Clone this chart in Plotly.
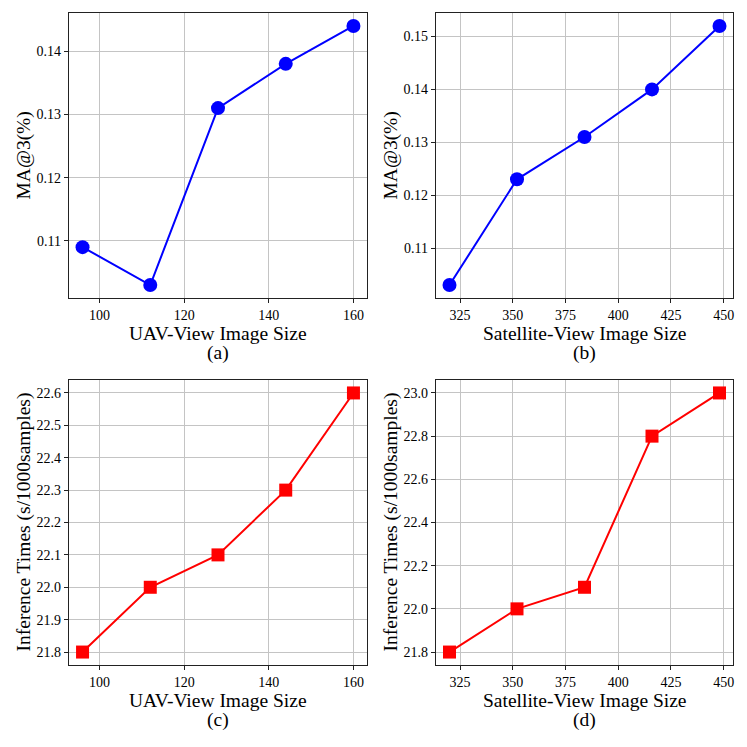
import plotly.graph_objects as go

# data
uav_size = [96, 112, 128, 144, 160]
sat_size = [320, 352, 384, 416, 448]
ma3_uav = [0.109, 0.103, 0.131, 0.138, 0.144]
ma3_sat = [0.103, 0.123, 0.131, 0.140, 0.152]
time_uav = [21.8, 22.0, 22.1, 22.3, 22.6]
time_sat = [21.8, 22.0, 22.1, 22.8, 23.0]

W = H = 747
OFF = 8  # page body margin pushes the plot down/right
FONT = 'Liberation Serif'
BLUE = '#0000ff'
RED = '#ff0000'

# panel boxes in pixels of the target picture: (left, right, top, bottom)
boxes = {
  'a': (69, 367, 13, 298),
  'b': (436, 733, 13, 298),
  'c': (69, 367, 380, 665),
  'd': (436, 733, 380, 665),
}

def px(v):
  return (v - OFF) / W

def py(v):
  return 1 - (v - OFF) / H

def pad(vals, frac=0.05):
  lo, hi = min(vals), max(vals)
  m = (hi - lo) * frac
  return [lo - m, hi + m]

panels = [
  ('a', uav_size, ma3_uav, BLUE, 'circle', 'UAV-View Image Size', 'MA@3(%)', 20, 0.01, '.2f'),
  ('b', sat_size, ma3_sat, BLUE, 'circle', 'Satellite-View Image Size', 'MA@3(%)', 25, 0.01, '.2f'),
  ('c', uav_size, time_uav, RED, 'square', 'UAV-View Image Size', 'Inference Times (s/1000samples)', 20, 0.1, '.1f'),
  ('d', sat_size, time_sat, RED, 'square', 'Satellite-View Image Size', 'Inference Times (s/1000samples)', 25, 0.2, '.1f'),
]

fig = go.Figure()
annotations = []
layout_axes = {}

for i, (key, xs, ys, color, symbol, xlabel, ylabel, xdt, ydt, yfmt) in enumerate(panels):
  n = '' if i == 0 else str(i + 1)
  l, r, t, b = boxes[key]
  fig.add_trace(go.Scatter(
    x = xs, y = ys,
    mode = 'lines+markers',
    line = dict(color = color, width = 2),
    marker = dict(color = color, symbol = symbol, size = 14 if symbol == 'circle' else 13),
    xaxis = 'x' + n, yaxis = 'y' + n,
    showlegend = False,
  ))
  common = dict(
    showline = True, linecolor = '#222', linewidth = 1.2, mirror = True,
    showgrid = True, gridcolor = '#c4c4c4', gridwidth = 1,
    ticks = 'outside', ticklen = 4, tickwidth = 1, tickcolor = '#222',
    tickfont = dict(family = FONT, size = 14, color = 'black'),
    zeroline = False,
  )
  layout_axes['xaxis' + n] = dict(
    common, domain = [px(l), px(r)], anchor = 'y' + n,
    range = pad(xs), dtick = xdt, tick0 = 0,
  )
  layout_axes['yaxis' + n] = dict(
    common, domain = [py(b), py(t)], anchor = 'x' + n,
    range = pad(ys), dtick = ydt, tick0 = 0, tickformat = yfmt,
  )
  cx = px((l + r) / 2)
  lab_font = dict(family = FONT, size = 19.5, color = 'black')
  annotations.append(dict(
    text = xlabel, x = cx, y = py(b + 35), xref = 'paper', yref = 'paper',
    xanchor = 'center', yanchor = 'middle', showarrow = False, font = lab_font,
  ))
  annotations.append(dict(
    text = '(' + key + ')', x = cx, y = py(b + 55), xref = 'paper', yref = 'paper',
    xanchor = 'center', yanchor = 'middle', showarrow = False, font = lab_font,
  ))
  annotations.append(dict(
    text = ylabel, x = px(l - 46), y = py((t + b) / 2), xref = 'paper', yref = 'paper',
    xanchor = 'center', yanchor = 'middle', textangle = -90, showarrow = False,
    font = lab_font,
  ))

fig.update_layout(
  width = W, height = H,
  margin = dict(l = 0, r = 0, t = 0, b = 0),
  paper_bgcolor = 'white', plot_bgcolor = 'white',
  annotations = annotations,
  **layout_axes,
)

fig.write_html('out.html')
